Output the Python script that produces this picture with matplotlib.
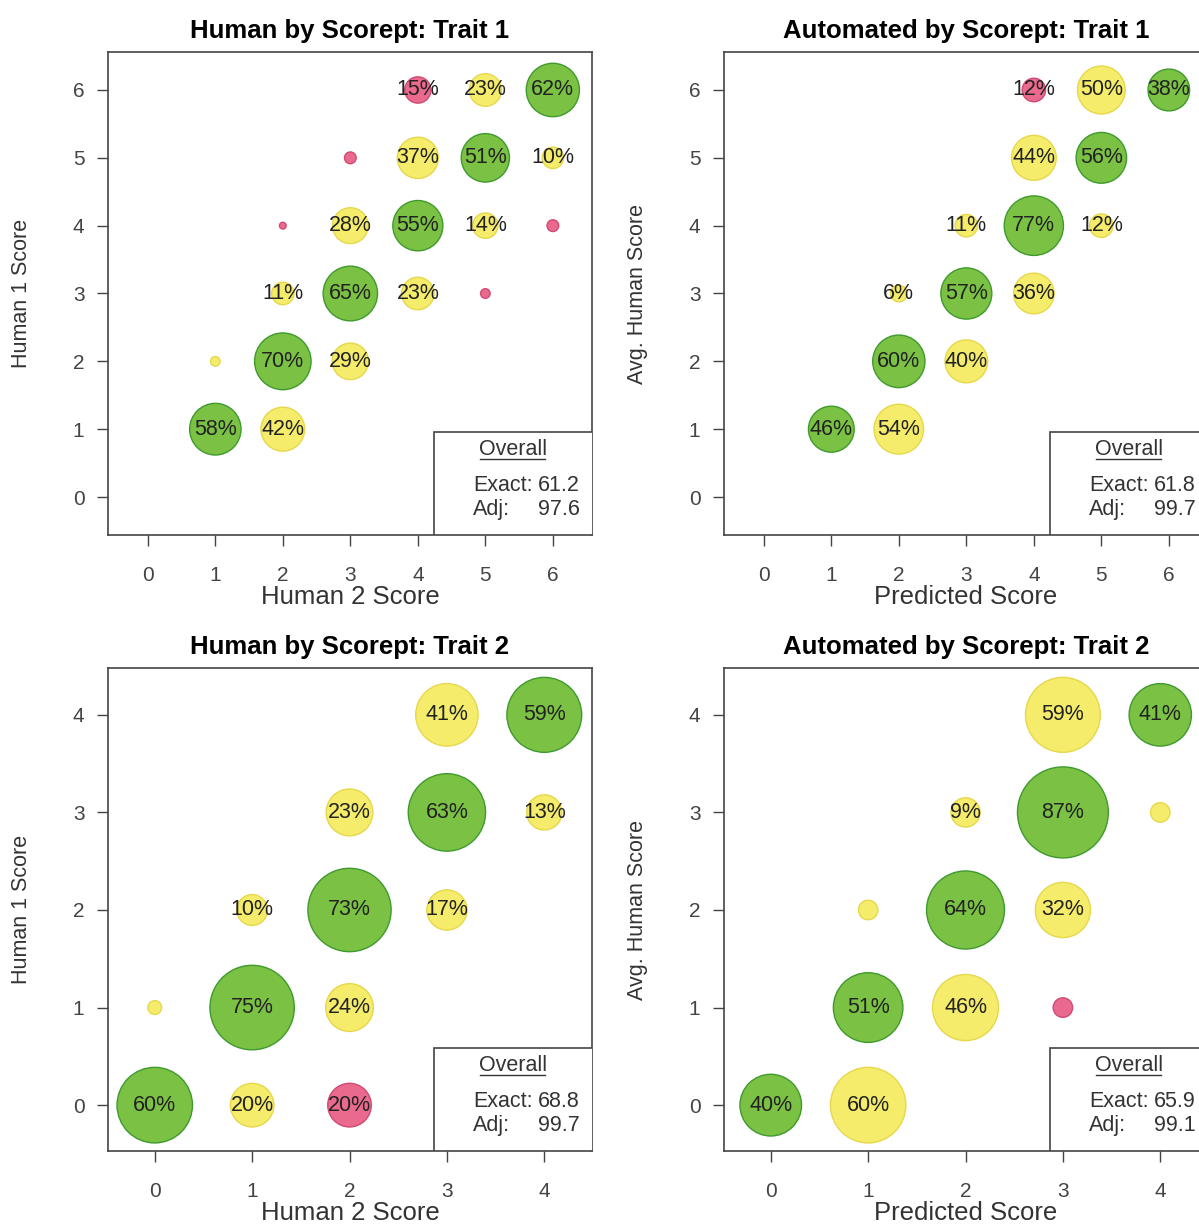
import numpy as np
import matplotlib.pyplot as plt
from matplotlib.patches import Circle, Rectangle

plt.rcParams['font.family'] = ['Liberation Sans', 'DejaVu Sans']

# Trait 1 - human 1 vs human 2 (row percentages)
t1_human_x = [1, 2, 1, 2, 3, 2, 3, 4, 5, 2, 3, 4, 5, 6, 3, 4, 5, 6, 4, 5, 6]
t1_human_y = [1, 1, 2, 2, 2, 3, 3, 3, 3, 4, 4, 4, 4, 4, 5, 5, 5, 5, 6, 6, 6]
t1_human_pct = [58, 42, 2, 70, 29, 11, 65, 23, 2, 1, 28, 55, 14, 3, 3, 37, 51, 10, 15, 23, 62]

# Trait 1 - average human vs predicted
t1_auto_x = [1, 2, 2, 3, 2, 3, 4, 3, 4, 5, 4, 5, 4, 5, 6]
t1_auto_y = [1, 1, 2, 2, 3, 3, 3, 4, 4, 4, 5, 5, 6, 6, 6]
t1_auto_pct = [46, 54, 60, 40, 6, 57, 36, 11, 77, 12, 44, 56, 12, 50, 38]

# Trait 2 - human 1 vs human 2
t2_human_x = [0, 1, 2, 0, 1, 2, 1, 2, 3, 2, 3, 4, 3, 4]
t2_human_y = [0, 0, 0, 1, 1, 1, 2, 2, 2, 3, 3, 3, 4, 4]
t2_human_pct = [60, 20, 20, 2, 75, 24, 10, 73, 17, 23, 63, 13, 41, 59]

# Trait 2 - average human vs predicted
t2_auto_x = [0, 1, 1, 2, 3, 1, 2, 3, 2, 3, 4, 3, 4]
t2_auto_y = [0, 0, 1, 1, 1, 2, 2, 2, 3, 3, 3, 4, 4]
t2_auto_pct = [40, 60, 51, 46, 4, 4, 64, 32, 9, 87, 4, 59, 41]

exact = [61.2, 61.8, 68.8, 65.9]
adj = [97.6, 99.7, 99.7, 99.1]

titles = ['Human by Scorept: Trait 1', 'Automated by Scorept: Trait 1',
          'Human by Scorept: Trait 2', 'Automated by Scorept: Trait 2']
xlabels = ['Human 2 Score', 'Predicted Score', 'Human 2 Score', 'Predicted Score']
ylabels = ['Human 1 Score', 'Avg. Human Score', 'Human 1 Score', 'Avg. Human Score']

# fill / edge colours for exact, adjacent and discrepant agreement
fills = ['#7bc144', '#f4ec6a', '#ea6a8e']
edges = ['#3f9a2e', '#e6d84c', '#d04a74']

fig = plt.figure(figsize=(11.99, 12.24), dpi=100)
W, H = 1199, 1224
boxes = [(108, 52), (724, 52), (108, 668), (724, 668)]

panels = [
    (t1_human_x, t1_human_y, t1_human_pct, 6),
    (t1_auto_x, t1_auto_y, t1_auto_pct, 6),
    (t2_human_x, t2_human_y, t2_human_pct, 4),
    (t2_auto_x, t2_auto_y, t2_auto_pct, 4),
]

for i, (xs, ys, pcts, top) in enumerate(panels):
    left, ytop = boxes[i]
    ax = fig.add_axes([left / W, 1 - (ytop + 483) / H, 484 / W, 483 / H])
    if top == 6:
        ax.set_xlim(-0.59, 6.58)
        ax.set_ylim(-0.56, 6.56)
    else:
        ax.set_xlim(-0.48, 4.49)
        ax.set_ylim(-0.47, 4.48)

    for x, y, p in zip(xs, ys, pcts):
        d = min(abs(x - y), 2)
        r = 0.5 * np.sqrt(p / 100)
        ax.add_patch(Circle((x, y), r, facecolor=fills[d], edgecolor=edges[d],
                            linewidth=1.0, zorder=2))
        if p >= 5:
            ax.text(x, y, f'{p}%', ha='center', va='center', fontsize=15.5,
                    color='#222222', zorder=3)

    ticks = list(range(top + 1))
    ax.set_xticks(ticks)
    ax.set_yticks(ticks)
    ax.tick_params(axis='x', length=8, width=1, pad=14, labelsize=15,
                   colors='#444444')
    ax.tick_params(axis='y', length=8, width=1, pad=9, labelsize=15,
                   colors='#444444')
    for s in ax.spines.values():
        s.set_color('#444444')
        s.set_linewidth(1.2)

    ax.set_title(titles[i], fontsize=18.5, fontweight='bold', pad=10)
    ax.set_xlabel(xlabels[i], fontsize=18.5, color='#333333', labelpad=0)
    ax.set_ylabel(ylabels[i], fontsize=15.5, color='#333333', labelpad=29)

    # overall agreement box in the lower right corner
    ax.add_patch(Rectangle((0.673, 0), 0.4, 0.213, transform=ax.transAxes,
                           facecolor='white', edgecolor='#444444',
                           linewidth=1.2, zorder=4))
    ax.text(0.836, 0.176, 'Overall', transform=ax.transAxes, ha='center',
            va='center', fontsize=15.5, color='#333333', zorder=5)
    ax.plot([0.769, 0.903], [0.158, 0.158], transform=ax.transAxes,
            color='#333333', linewidth=1, zorder=5)
    ax.text(0.754, 0.102, 'Exact:', transform=ax.transAxes, ha='left',
            va='center', fontsize=15.5, color='#333333', zorder=5)
    ax.text(0.975, 0.102, f'{exact[i]}', transform=ax.transAxes, ha='right',
            va='center', fontsize=15.5, color='#333333', zorder=5)
    ax.text(0.754, 0.052, 'Adj:', transform=ax.transAxes, ha='left',
            va='center', fontsize=15.5, color='#333333', zorder=5)
    ax.text(0.975, 0.052, f'{adj[i]}', transform=ax.transAxes, ha='right',
            va='center', fontsize=15.5, color='#333333', zorder=5)

fig.savefig('out.png', dpi=100)
